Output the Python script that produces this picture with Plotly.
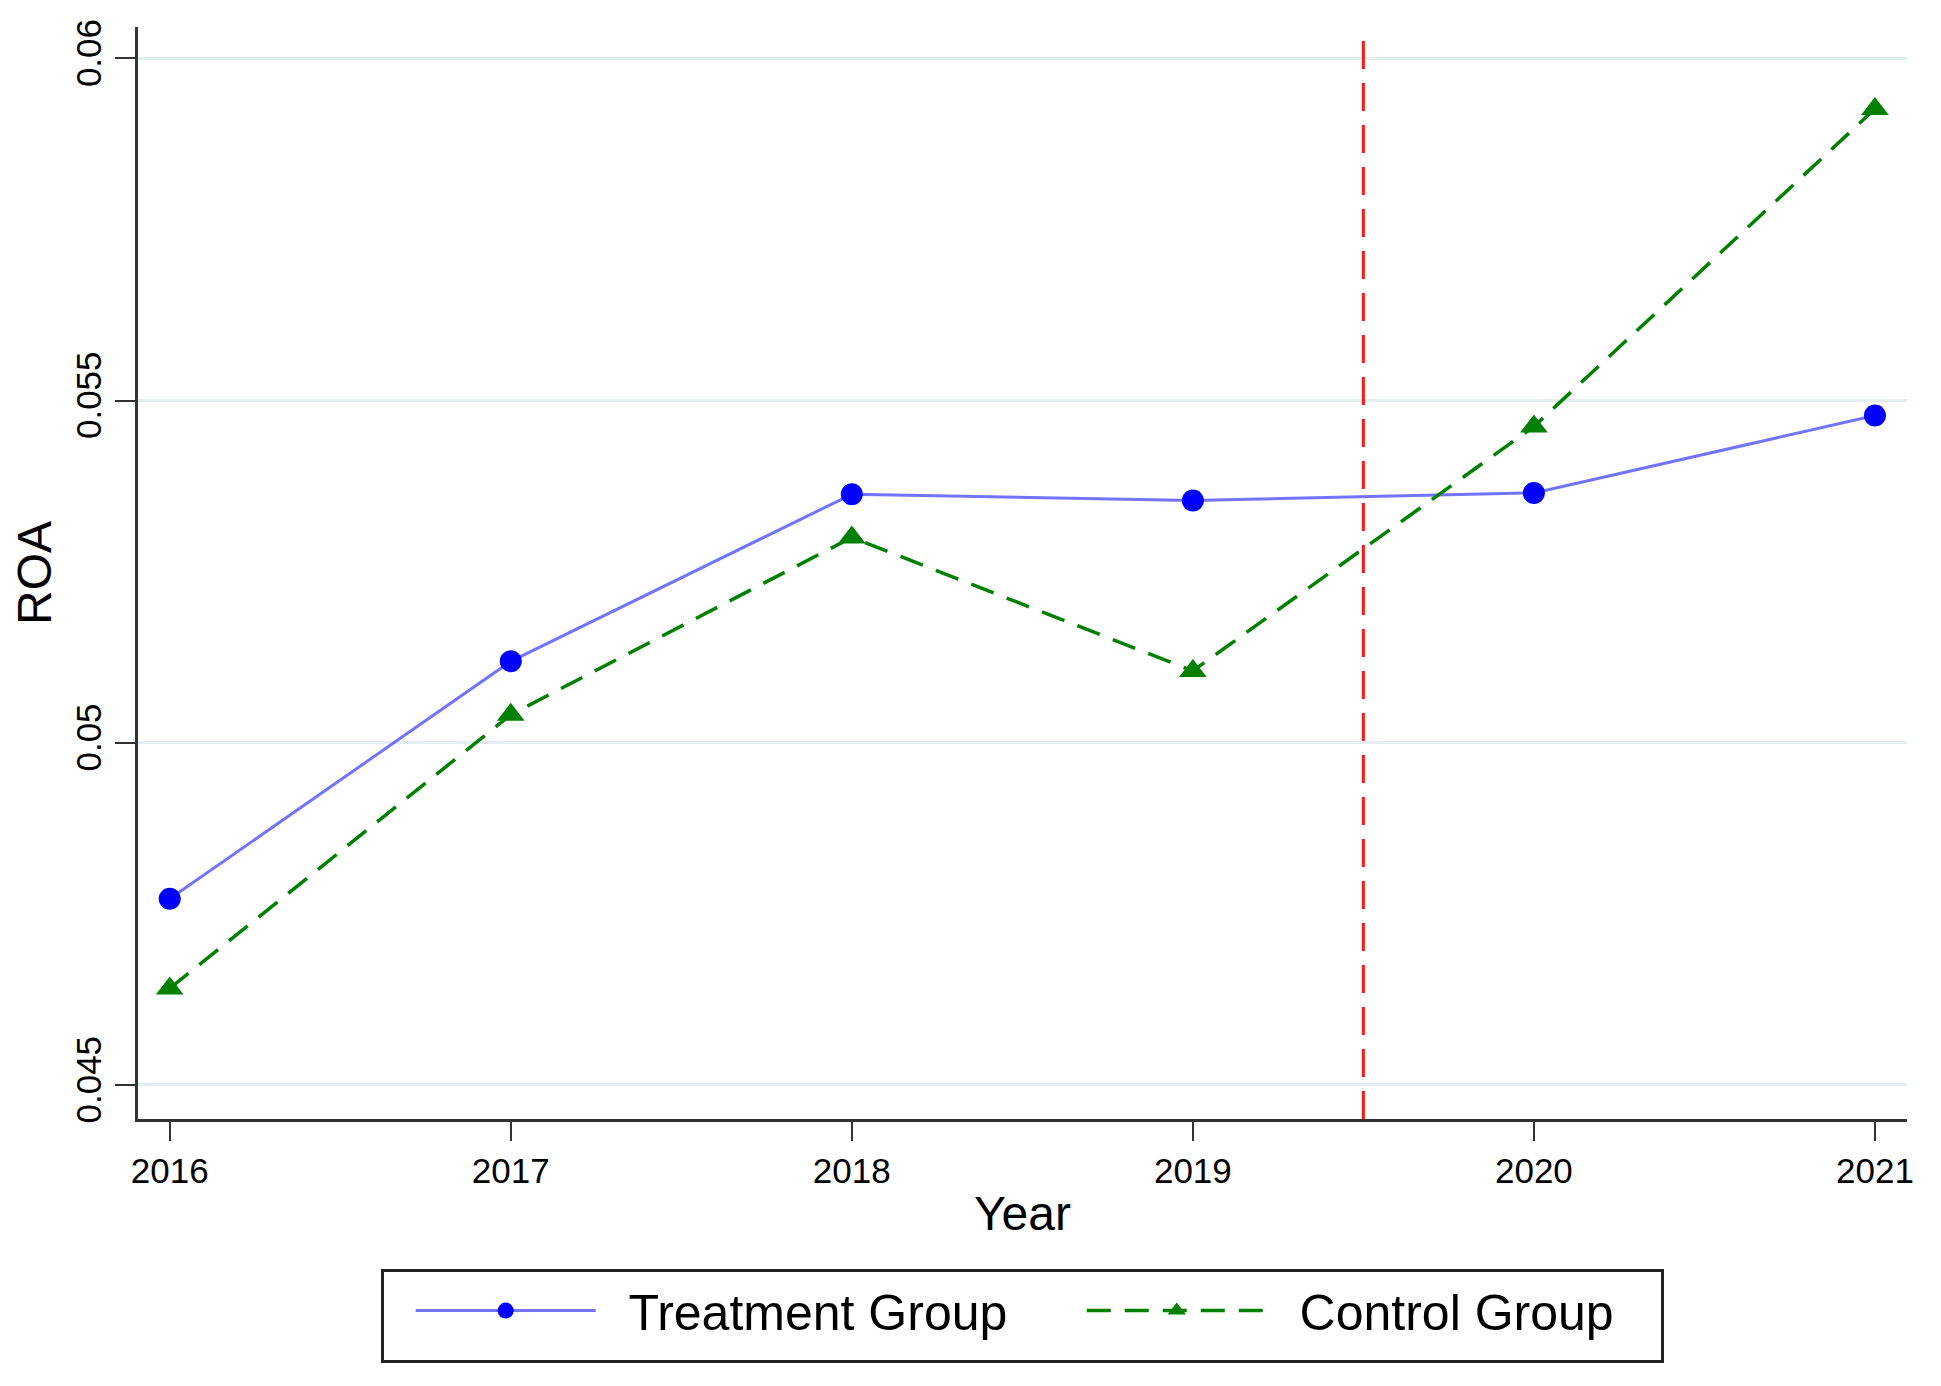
import plotly.graph_objects as go

years = [2016, 2017, 2018, 2019, 2020, 2021]
treatment = [0.04772, 0.05119, 0.05363, 0.05354, 0.05365, 0.05478]
control = [0.04641, 0.05041, 0.05300, 0.05105, 0.05462, 0.05926]
policy_year = 2019.5
ytick_vals = [0.045, 0.05, 0.055, 0.06]
ytick_text = ["0.045", "0.05", "0.055", "0.06"]
series_names = ["Treatment Group", "Control Group"]

y_range = [0.044503, 0.060457]
x_range = [2015.907, 2021.094]

FONT = "Liberation Sans, Arial, Helvetica, sans-serif"
NB = "\u00a0"

fig = go.Figure()

fig.add_trace(go.Scatter(
    x=[policy_year, policy_year], y=[y_range[0], 0.060275],
    mode="lines", line=dict(color="#ff1a1a", width=3, dash="28px,14px"),
    showlegend=False, hoverinfo="skip"))

fig.add_trace(go.Scatter(
    x=years, y=treatment, name=NB * 2 + series_names[0] + NB * 5, mode="lines+markers",
    line=dict(color="rgba(90,90,255,0.85)", width=3),
    marker=dict(color="#0000ff", size=22, symbol="circle")))

fig.add_trace(go.Scatter(
    x=years, y=control, name=NB * 2 + series_names[1] + NB * 3, mode="lines+markers",
    line=dict(color="#008000", width=3.5, dash="24px,14px"),
    marker=dict(color="#008000", size=24, symbol="triangle-up")))

fig.update_layout(
    width=1925, height=1370,
    margin=dict(l=130, r=26, t=19, b=259, autoexpand=False),
    paper_bgcolor="white", plot_bgcolor="white",
    font=dict(family=FONT, color="black"),
    legend=dict(
        orientation="h", x=0.5, xanchor="center", y=-0.137, yanchor="top",
        bordercolor="#222", borderwidth=3, bgcolor="white",
        font=dict(size=50, family=FONT),
        itemwidth=180,
        title=dict(text=NB, side="left", font=dict(size=60, family=FONT)),
    ),
)

fig.update_xaxes(
    range=x_range, tickvals=years, ticktext=[str(y) for y in years],
    showgrid=False, zeroline=False,
    showline=True, linecolor="#333", linewidth=3,
    ticks="outside", ticklen=19, tickwidth=2, tickcolor="#333",
    tickfont=dict(size=35, family=FONT),
    title=dict(text="Year", font=dict(size=48, family=FONT), standoff=8),
)

fig.update_yaxes(
    range=y_range, tickvals=ytick_vals, ticktext=ytick_text, tickangle=-90,
    showgrid=True, gridcolor="#e4eef0", gridwidth=3, zeroline=False,
    showline=True, linecolor="#333", linewidth=3,
    ticks="outside", ticklen=20, tickwidth=2, tickcolor="#333",
    tickfont=dict(size=35, family=FONT),
    title=dict(text="ROA", font=dict(size=48, family=FONT), standoff=14),
)

fig.write_html("out.html")
